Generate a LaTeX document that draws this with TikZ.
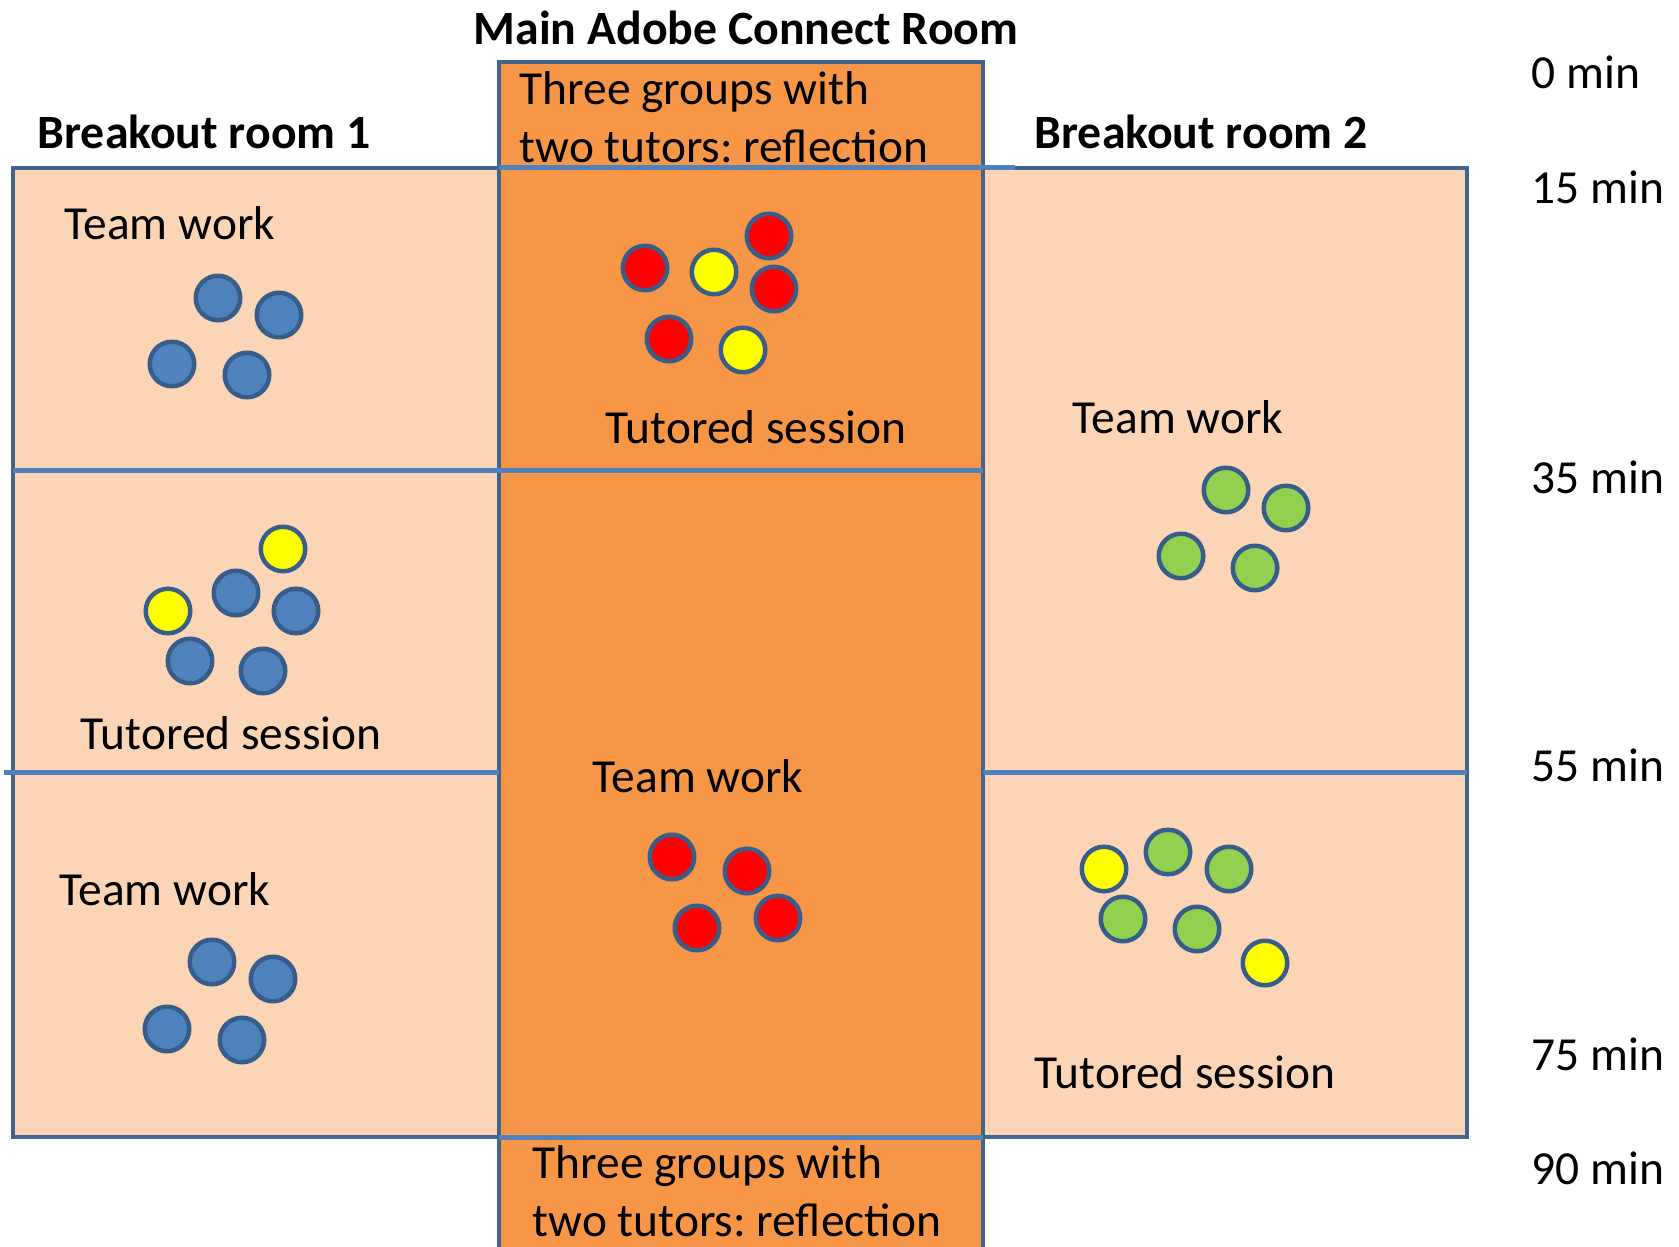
\documentclass[tikz,border=0pt]{standalone}
\usepackage{fontspec}
\setmainfont{Carlito}
\frenchspacing
\definecolor{peach}{HTML}{FBD5B5}
\definecolor{mainorange}{HTML}{F79646}
\definecolor{frameblue}{HTML}{41658F}
\definecolor{lineblue}{HTML}{4F81BD}
\definecolor{outline}{HTML}{385D8A}
\definecolor{pblue}{HTML}{4F81BD}
\definecolor{pred}{HTML}{FF0000}
\definecolor{pyellow}{HTML}{FFFF00}
\definecolor{pgreen}{HTML}{92D050}
\tikzset{
  label/.style={font=\fontsize{13.5}{16.4}\selectfont, inner sep=0pt},
  head/.style={font=\fontsize{13.6}{16.4}\selectfont\bfseries, inner sep=0pt},
  person/.style={circle, draw=outline, line width=0.45mm, minimum size=4.45mm, inner sep=0pt},
}
\begin{document}
\begin{tikzpicture}[x=0.1mm,y=-0.1mm]
\useasboundingbox (0,0) rectangle (1679,1247);
% rooms
\fill[peach] (13,168) rectangle (499,1137);
\fill[peach] (983,168) rectangle (1467,1137);
\fill[mainorange] (499,62) rectangle (983,1260);
\draw[frameblue, line width=0.4mm] (13,168) rectangle (499,1137);
\draw[frameblue, line width=0.4mm] (983,168) rectangle (1467,1137);
\draw[frameblue, line width=0.4mm] (499,1247) -- (499,62) -- (983,62) -- (983,1247);
% time steps
\draw[lineblue, line width=0.5mm] (499,168) -- (1015,168);
\draw[lineblue, line width=0.5mm] (13,471) -- (983,471);
\draw[lineblue, line width=0.5mm] (4,773) -- (499,773);
\draw[lineblue, line width=0.5mm] (983,773) -- (1467,773);
\draw[lineblue, line width=0.5mm] (499,1137) -- (983,1137);

% headings
\node[head] (title) at (746,28) {Main Adobe Connect Room};
\node[head, anchor=west] (room1) at (37,132) {Breakout room 1};
\node[head, anchor=west] (room2) at (1034,132) {Breakout room 2};

% times
\foreach \t/\y in {0/72, 15/187, 35/477, 55/765, 75/1054, 90/1168}
  \node[label, anchor=west] (t\t) at (1531,\y) {\t{} min};

% texts
\node[label, anchor=west, align=left] (startref) at (519,117) {Three groups with\\two tutors: reflection};
\node[label, anchor=west, align=left] (endref) at (532,1191) {Three groups with\\two tutors: reflection};
\node[label, anchor=west] (team1a) at (64,223) {Team work};
\node[label, anchor=west] (tut1) at (80,733) {Tutored session};
\node[label, anchor=west] (team1b) at (59,889) {Team work};
\node[label] (tut0) at (756,427) {Tutored session};
\node[label] (team0) at (698,776) {Team work};
\node[label, anchor=west] (team2) at (1072,417) {Team work};
\node[label, anchor=west] (tut2) at (1034,1072) {Tutored session};

% people
\foreach \x/\y/\c in {218/298/pblue, 279/315/pblue, 172/364/pblue, 247/375/pblue,
    283/549/pyellow, 236/593/pblue, 168/611/pyellow, 296/611/pblue, 190/661/pblue, 263/671/pblue,
    212/962/pblue, 273/979/pblue, 167/1029/pblue, 242/1040/pblue,
    645/268/pred, 714/272/pyellow, 769/236/pred, 774/289/pred, 669/339/pred, 743/350/pyellow,
    672/857/pred, 747/871/pred, 697/928/pred, 778/918/pred,
    1226/490/pgreen, 1286/508/pgreen, 1181/556/pgreen, 1255/568/pgreen,
    1104/869/pyellow, 1168/852/pgreen, 1229/869/pgreen, 1123/919/pgreen, 1197/929/pgreen, 1265/963/pyellow}
  \node[person, fill=\c] at (\x,\y) {};
\end{tikzpicture}
\end{document}
